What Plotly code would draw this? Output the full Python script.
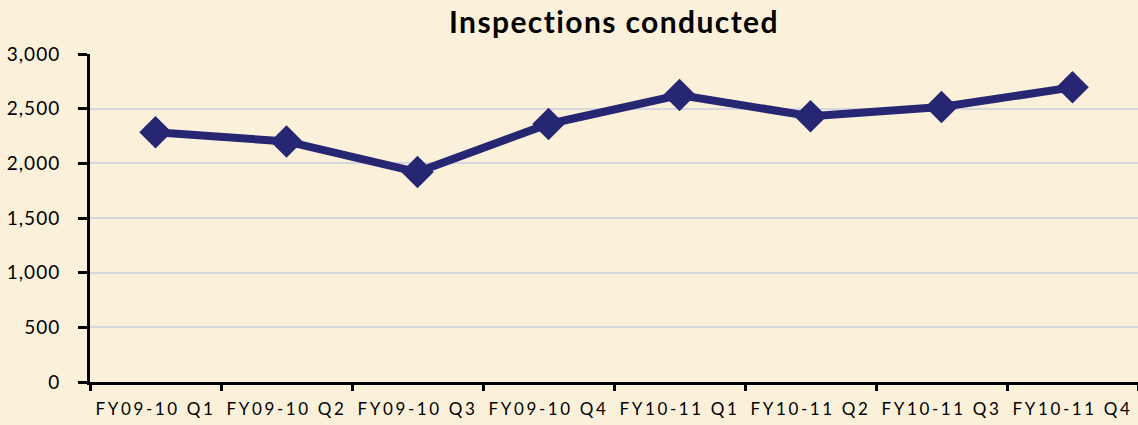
import plotly.graph_objects as go

categories = ["FY09-10 Q1", "FY09-10 Q2", "FY09-10 Q3", "FY09-10 Q4",
              "FY10-11 Q1", "FY10-11 Q2", "FY10-11 Q3", "FY10-11 Q4"]
inspections = [2285, 2200, 1920, 2360, 2625, 2430, 2515, 2695]
y_ticks = [0, 500, 1000, 1500, 2000, 2500, 3000]

fig = go.Figure()
fig.add_trace(go.Scatter(
    x=categories, y=inspections, mode="lines+markers",
    line=dict(color="#262673", width=8),
    marker=dict(symbol="diamond", size=25, color="#262673"),
    showlegend=False,
))

fig.update_layout(
    width=1138, height=425,
    margin=dict(l=90, r=0, t=54, b=43, autoexpand=False),
    paper_bgcolor="#FBF1DA", plot_bgcolor="#FBF1DA",
    font=dict(family="Lato, Open Sans, sans-serif", color="#000000"),
    title=dict(text="<b>Inspections conducted</b>", x=0.5, xref="paper",
               y=1 - 22 / 425, yref="container", yanchor="middle",
               font=dict(size=30, family="Lato, Open Sans, sans-serif")),
)
fig.update_xaxes(
    type="category", range=[-0.5, 7.5],
    showline=True, linecolor="#000000", linewidth=3,
    ticks="outside", tickson="boundaries", ticklen=6, tickwidth=3, tickcolor="#000000",
    showgrid=False, tickfont=dict(size=17),
    ticklabelstandoff=10, automargin=False,
)
fig.update_yaxes(
    range=[0, 3000], tickvals=y_ticks, tickformat=",",
    showline=True, linecolor="#000000", linewidth=3,
    ticks="outside", ticklen=9, tickwidth=3, tickcolor="#000000",
    showgrid=True, gridcolor="#D6D6DE", gridwidth=2,
    zeroline=False, tickfont=dict(size=19), automargin=False,
    ticklabelstandoff=14,
)

post = """
document.body.style.margin='0';
var s=document.createElement('style');
s.innerHTML='.xtick text{letter-spacing:2.6px;} .ytick text{letter-spacing:1px;} .gtitle{letter-spacing:1.4px;}';
document.head.appendChild(s);
"""
fig.write_html("out.html", post_script=post, config={"displayModeBar": False})
